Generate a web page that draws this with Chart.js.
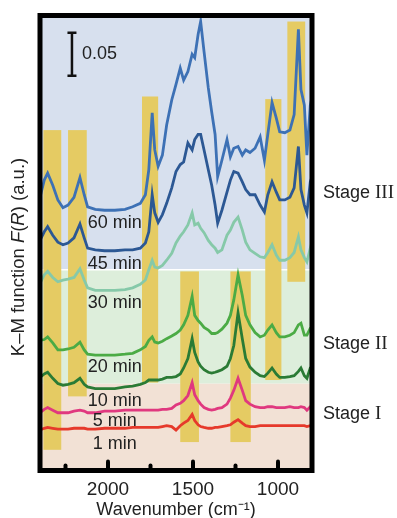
<!DOCTYPE html>
<html>
<head>
<meta charset="utf-8">
<script src="https://cdn.jsdelivr.net/npm/chart.js@4.4.1/dist/chart.umd.min.js"></script>
<style>
  html, body { margin: 0; padding: 0; background: #fff; }
  #wrap { width: 397px; height: 518px; }
</style>
</head>
<body>
<div id="wrap"><canvas id="kmChart" width="397" height="518"></canvas></div>
<script>
// wavenumber grid (cm-1) shared by every spectrum
var wavenumbers = [2400, 2375, 2355, 2325, 2295, 2265, 2235, 2200, 2165, 2140,
    2120, 2075, 2020, 1960, 1900, 1855, 1810, 1780, 1760, 1740,
    1725, 1705, 1680, 1655, 1625, 1600, 1575, 1555, 1530, 1505,
    1490, 1470, 1455, 1435, 1410, 1390, 1370, 1355, 1330, 1300,
    1280, 1260, 1235, 1210, 1190, 1165, 1135, 1105, 1080, 1060,
    1035, 1010, 990, 960, 930, 905, 880, 865, 845, 830,
    810, 800];

// K-M function F(R), offset spectra
var f60 = [0.317, 0.337, 0.345, 0.331, 0.314, 0.305, 0.308, 0.317, 0.340, 0.320,
    0.306, 0.303, 0.302, 0.302, 0.303, 0.306, 0.310, 0.320, 0.349, 0.415,
    0.372, 0.353, 0.366, 0.401, 0.430, 0.448, 0.467, 0.453, 0.463, 0.483,
    0.479, 0.506, 0.521, 0.486, 0.444, 0.416, 0.390, 0.341, 0.360, 0.384,
    0.364, 0.374, 0.376, 0.366, 0.372, 0.369, 0.374, 0.387, 0.360, 0.390,
    0.427, 0.409, 0.393, 0.392, 0.395, 0.413, 0.512, 0.442, 0.424, 0.366,
    0.424, 0.433];
var f45 = [0.267, 0.277, 0.283, 0.273, 0.265, 0.262, 0.264, 0.270, 0.286, 0.270,
    0.258, 0.256, 0.255, 0.255, 0.256, 0.256, 0.258, 0.264, 0.277, 0.320,
    0.299, 0.288, 0.297, 0.310, 0.328, 0.347, 0.355, 0.358, 0.380, 0.372,
    0.384, 0.390, 0.390, 0.372, 0.349, 0.331, 0.308, 0.287, 0.302, 0.323,
    0.337, 0.347, 0.345, 0.335, 0.326, 0.320, 0.320, 0.308, 0.300, 0.320,
    0.335, 0.323, 0.314, 0.314, 0.317, 0.328, 0.376, 0.326, 0.308, 0.299,
    0.335, 0.341];
var f30 = [0.217, 0.227, 0.231, 0.224, 0.219, 0.221, 0.222, 0.224, 0.234, 0.221,
    0.212, 0.209, 0.209, 0.209, 0.210, 0.212, 0.216, 0.221, 0.233, 0.244,
    0.236, 0.235, 0.238, 0.244, 0.252, 0.264, 0.272, 0.277, 0.285, 0.299,
    0.285, 0.287, 0.281, 0.276, 0.267, 0.262, 0.258, 0.253, 0.256, 0.273,
    0.279, 0.288, 0.294, 0.279, 0.265, 0.256, 0.252, 0.248, 0.247, 0.253,
    0.262, 0.250, 0.244, 0.244, 0.247, 0.253, 0.271, 0.256, 0.247, 0.242,
    0.258, 0.265];
var f20 = [0.151, 0.152, 0.155, 0.148, 0.140, 0.140, 0.141, 0.143, 0.149, 0.140,
    0.135, 0.134, 0.134, 0.134, 0.135, 0.136, 0.140, 0.144, 0.151, 0.155,
    0.149, 0.148, 0.150, 0.153, 0.156, 0.159, 0.163, 0.169, 0.180, 0.202,
    0.180, 0.174, 0.171, 0.166, 0.163, 0.159, 0.159, 0.160, 0.164, 0.171,
    0.180, 0.198, 0.227, 0.203, 0.180, 0.169, 0.160, 0.155, 0.157, 0.163,
    0.169, 0.160, 0.155, 0.155, 0.157, 0.160, 0.169, 0.171, 0.157, 0.157,
    0.165, 0.166];
var f10 = [0.108, 0.112, 0.114, 0.107, 0.101, 0.099, 0.100, 0.102, 0.107, 0.100,
    0.097, 0.095, 0.095, 0.095, 0.097, 0.098, 0.100, 0.102, 0.105, 0.105,
    0.105, 0.105, 0.106, 0.108, 0.108, 0.109, 0.112, 0.119, 0.130, 0.153,
    0.137, 0.126, 0.121, 0.117, 0.114, 0.113, 0.114, 0.115, 0.117, 0.121,
    0.130, 0.145, 0.183, 0.153, 0.130, 0.120, 0.114, 0.110, 0.109, 0.113,
    0.119, 0.112, 0.108, 0.108, 0.109, 0.110, 0.115, 0.119, 0.110, 0.107,
    0.119, 0.120];
var f5 = [0.067, 0.071, 0.073, 0.070, 0.067, 0.067, 0.067, 0.069, 0.070, 0.069,
    0.067, 0.067, 0.069, 0.069, 0.070, 0.070, 0.070, 0.070, 0.070, 0.070,
    0.070, 0.070, 0.071, 0.071, 0.072, 0.076, 0.078, 0.081, 0.087, 0.102,
    0.088, 0.081, 0.077, 0.073, 0.071, 0.070, 0.071, 0.072, 0.073, 0.077,
    0.084, 0.093, 0.107, 0.093, 0.081, 0.077, 0.074, 0.073, 0.073, 0.074,
    0.074, 0.073, 0.073, 0.073, 0.074, 0.073, 0.073, 0.074, 0.073, 0.070,
    0.074, 0.076];
var f1 = [0.047, 0.049, 0.050, 0.049, 0.048, 0.048, 0.048, 0.049, 0.049, 0.049,
    0.048, 0.048, 0.049, 0.049, 0.049, 0.050, 0.050, 0.050, 0.050, 0.050,
    0.050, 0.050, 0.051, 0.052, 0.051, 0.047, 0.052, 0.055, 0.058, 0.065,
    0.058, 0.053, 0.051, 0.050, 0.049, 0.049, 0.050, 0.050, 0.051, 0.052,
    0.053, 0.056, 0.059, 0.055, 0.052, 0.051, 0.051, 0.052, 0.052, 0.052,
    0.052, 0.052, 0.052, 0.052, 0.052, 0.052, 0.052, 0.052, 0.052, 0.051,
    0.052, 0.052];

var timeLabels = ['60 min', '45 min', '30 min', '20 min', '10 min', '5 min', '1 min'];
var timeLabelLevels = [0.287, 0.240, 0.194, 0.120, 0.081, 0.057, 0.031];

var xTicks = [2000, 1500, 1000];
var xMinorTicks = [2250, 1750, 1250];

// stage regions (F(R) ranges)
var stageNames = ['Stage I', 'Stage II', 'Stage III'];
var stageFrom = [0, 0.101, 0.233];
var stageTo = [0.101, 0.233, 0.528];
var stageLabelLevels = [0.066, 0.147, 0.322];

// highlighted bands (cm-1 range, F(R) range)
var bandFrom = [2380, 2235, 1800, 1575, 1280, 1075, 945];
var bandTo = [2275, 2125, 1705, 1465, 1160, 980, 840];
var bandLow = [0.024, 0.086, 0.102, 0.033, 0.033, 0.105, 0.219];
var bandHigh = [0.395, 0.395, 0.434, 0.231, 0.231, 0.431, 0.521];

// scale bar
var scaleBarAt = 2212;
var scaleBarBase = 0.458;
var scaleBarSize = 0.05;

var seriesValues = [f60, f45, f30, f20, f10, f5, f1];
var seriesColors = ['#3d71b5', '#2c5894', '#86c9a9', '#4bab45', '#2a7b35', '#e0387f', '#e6392b'];
var stageColors = ['#f2e1d5', '#ddeedb', '#d7e0ee'];

var SANS = '"Liberation Sans", Arial, sans-serif';
var SERIF = '"Liberation Serif", "Times New Roman", serif';
var INK = '#222';

var decor = {
    id: 'decor',
    beforeDatasetsDraw: function(chart) {
        var ctx = chart.ctx, a = chart.chartArea;
        var sx = chart.scales.x, sy = chart.scales.y;
        ctx.save();
        for (var i = 0; i < stageFrom.length; i++) {
            var t = sy.getPixelForValue(stageTo[i]);
            var b = sy.getPixelForValue(stageFrom[i]);
            ctx.fillStyle = stageColors[i];
            ctx.fillRect(a.left, t, a.right - a.left, b - t);
        }
        // white seam under stage III
        var seam = sy.getPixelForValue(stageFrom[2]);
        ctx.strokeStyle = '#fff';
        ctx.lineWidth = 1.5;
        ctx.beginPath();
        ctx.moveTo(a.left, seam);
        ctx.lineTo(a.right, seam);
        ctx.stroke();
        ctx.fillStyle = '#e5cb63';
        for (var j = 0; j < bandFrom.length; j++) {
            var x1 = sx.getPixelForValue(bandFrom[j]);
            var x2 = sx.getPixelForValue(bandTo[j]);
            var y1 = sy.getPixelForValue(bandHigh[j]);
            var y2 = sy.getPixelForValue(bandLow[j]);
            ctx.fillRect(x1, y1, x2 - x1, y2 - y1);
        }
        ctx.restore();
    },
    afterDraw: function(chart) {
        var ctx = chart.ctx, a = chart.chartArea;
        var sx = chart.scales.x, sy = chart.scales.y;
        ctx.save();

        // frame
        ctx.strokeStyle = '#000';
        ctx.lineWidth = 5;
        ctx.strokeRect(a.left, a.top, a.right - a.left, a.bottom - a.top);

        // inward tick marks
        ctx.lineCap = 'round';
        ctx.lineWidth = 4;
        xTicks.forEach(function(v) {
            var px = sx.getPixelForValue(v);
            ctx.beginPath(); ctx.moveTo(px, a.bottom); ctx.lineTo(px, a.bottom - 9); ctx.stroke();
        });
        xMinorTicks.forEach(function(v) {
            var px = sx.getPixelForValue(v);
            ctx.beginPath(); ctx.moveTo(px, a.bottom); ctx.lineTo(px, a.bottom - 5); ctx.stroke();
        });

        // time labels
        ctx.fillStyle = INK;
        ctx.font = '18px ' + SANS;
        ctx.textAlign = 'center';
        ctx.textBaseline = 'middle';
        timeLabels.forEach(function(t, i) {
            ctx.fillText(t, sx.getPixelForValue(1960), sy.getPixelForValue(timeLabelLevels[i]));
        });

        // scale bar
        var bx = sx.getPixelForValue(scaleBarAt);
        var b0 = sy.getPixelForValue(scaleBarBase);
        var b1 = sy.getPixelForValue(scaleBarBase + scaleBarSize);
        ctx.strokeStyle = '#111';
        ctx.lineCap = 'butt';
        ctx.lineWidth = 2.5;
        ctx.beginPath();
        ctx.moveTo(bx, b0); ctx.lineTo(bx, b1);
        ctx.moveTo(bx - 4.5, b0); ctx.lineTo(bx + 4.5, b0);
        ctx.moveTo(bx - 4.5, b1); ctx.lineTo(bx + 4.5, b1);
        ctx.stroke();
        ctx.textAlign = 'left';
        ctx.fillText(String(scaleBarSize), bx + 10, (b0 + b1) / 2);

        // stage labels, roman numerals in serif
        stageNames.forEach(function(name, i) {
            var parts = name.split(' ');
            var ly = sy.getPixelForValue(stageLabelLevels[i]);
            var lx = a.right + 11;
            ctx.font = '18px ' + SANS;
            ctx.fillText(parts[0] + ' ', lx, ly);
            lx += ctx.measureText(parts[0] + ' ').width;
            ctx.font = '19px ' + SERIF;
            ctx.fillText(parts[1], lx, ly);
        });

        // y title with italic F and R
        var pieces = [['K\u2013M function ', false], ['F', true], ['(', false], ['R', true], [') (a.u.)', false]];
        ctx.translate(19, 257);
        ctx.rotate(-Math.PI / 2);
        var total = 0;
        pieces.forEach(function(p) {
            ctx.font = (p[1] ? 'italic ' : '') + '18.5px ' + SANS;
            total += ctx.measureText(p[0]).width;
        });
        var pos = -total / 2;
        pieces.forEach(function(p) {
            ctx.font = (p[1] ? 'italic ' : '') + '18.5px ' + SANS;
            ctx.fillText(p[0], pos, 0);
            pos += ctx.measureText(p[0]).width;
        });
        ctx.restore();
    }
};

var ctx = document.getElementById('kmChart').getContext('2d');
var kmChart = new Chart(ctx, {
    type: 'line',
    data: {
        datasets: seriesValues.map(function(vals, i) {
            return {
                label: timeLabels[i],
                data: wavenumbers.map(function(w, k) { return { x: w, y: vals[k] }; }),
                borderColor: seriesColors[i],
                borderWidth: 2.8,
                pointRadius: 0,
                tension: 0,
                fill: false
            };
        })
    },
    options: {
        responsive: false,
        devicePixelRatio: 1,
        animation: false,
        layout: { padding: { left: 40, right: 85, top: 15.5, bottom: 0 } },
        scales: {
            x: {
                type: 'linear',
                reverse: true,
                min: 800,
                max: 2400,
                afterBuildTicks: function(scale) {
                    scale.ticks = xTicks.map(function(v) { return { value: v }; });
                },
                grid: { display: false, drawTicks: false },
                border: { display: false },
                ticks: {
                    color: INK,
                    padding: 10,
                    maxRotation: 0,
                    autoSkip: false,
                    font: { family: SANS, size: 19, lineHeight: 1 },
                    callback: function(v) { return String(v); }
                },
                title: {
                    display: true,
                    text: 'Wavenumber (cm\u207B\u00B9)',
                    color: INK,
                    font: { family: SANS, size: 18, lineHeight: 0.9 },
                    padding: { top: -7.7, bottom: 0 }
                }
            },
            y: {
                display: false,
                min: 0,
                max: 0.528
            }
        },
        plugins: {
            legend: { display: false },
            tooltip: { enabled: false }
        }
    },
    plugins: [decor]
});
</script>
</body>
</html>
